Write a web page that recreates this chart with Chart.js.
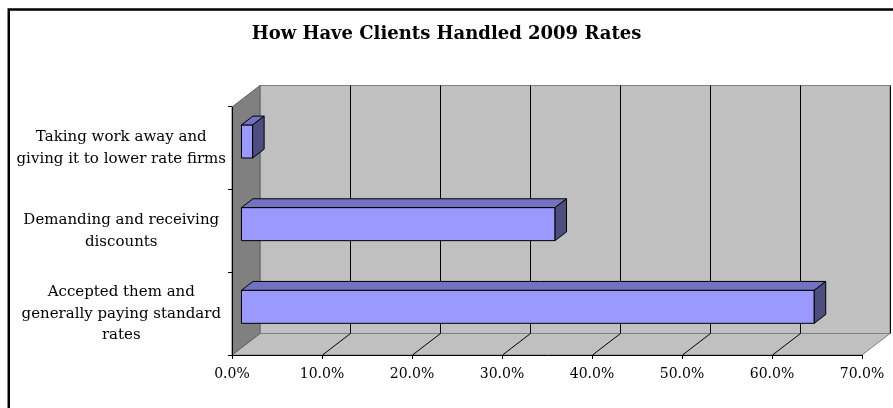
<!DOCTYPE html>
<html>
<head>
<meta charset="utf-8">
<script src="https://cdn.jsdelivr.net/npm/chart.js@4.4.1/dist/chart.umd.min.js"></script>
<style>
  html, body { margin: 0; padding: 0; background: #fff; }
  #wrap { width: 893px; height: 408px; }
</style>
</head>
<body>
<div id="wrap"><canvas id="rates"></canvas></div>
<script>
// categories top to bottom, shares as fractions
const categories = [
    ["Taking work away and", "giving it to lower rate firms"],
    ["Demanding and receiving", "discounts"],
    ["Accepted them and", "generally paying standard", "rates"]
];
const shares = [0.013, 0.349, 0.637];
const axisMax = 0.7;
const axisStep = 0.1;

// depth of the 3d box (back wall offset from the front plane)
const DEPTH_X = 28;
const DEPTH_Y = -21.5;
// bars sit between these depth fractions
const BAR_FRONT = 0.32;
const BAR_BACK = 0.73;

const serif = "'DejaVu Serif', 'Liberation Serif', serif";

function pct(v) {
    return (v * 100).toFixed(1) + "%";
}

const walls3d = {
    id: "walls3d",
    afterLayout(chart) {
        // let the category labels spill into the left padding instead of being clipped
        chart.scales.y.left = 0;
    },
    beforeDraw(chart) {
        const ctx = chart.ctx;
        const a = chart.chartArea;
        const xs = chart.scales.x;
        ctx.save();
        ctx.fillStyle = "#fff";
        ctx.fillRect(0, 0, chart.width, chart.height);

        // outer frame, runs off the right and bottom edge
        ctx.strokeStyle = "#000";
        ctx.lineWidth = 2.5;
        ctx.beginPath();
        ctx.moveTo(8.75, chart.height + 5);
        ctx.lineTo(8.75, 9.5);
        ctx.lineTo(chart.width + 5, 9.5);
        ctx.stroke();

        const bl = a.left + DEPTH_X, bt = a.top + DEPTH_Y;
        const br = a.right + DEPTH_X, bb = a.bottom + DEPTH_Y;

        ctx.lineWidth = 1;
        ctx.strokeStyle = "#808080";
        // back wall
        ctx.fillStyle = "#c0c0c0";
        ctx.fillRect(bl, bt, br - bl, bb - bt);
        ctx.strokeRect(bl, bt, br - bl, bb - bt);

        // floor
        ctx.beginPath();
        ctx.moveTo(a.left, a.bottom);
        ctx.lineTo(bl, bb);
        ctx.lineTo(br, bb);
        ctx.lineTo(a.right, a.bottom);
        ctx.closePath();
        ctx.fill();
        ctx.stroke();

        // left wall
        ctx.fillStyle = "#808080";
        ctx.beginPath();
        ctx.moveTo(a.left, a.top);
        ctx.lineTo(bl, bt);
        ctx.lineTo(bl, bb);
        ctx.lineTo(a.left, a.bottom);
        ctx.closePath();
        ctx.fill();
        ctx.strokeStyle = "#606060";
        ctx.stroke();

        // gridlines on the floor and back wall
        ctx.strokeStyle = "#000";
        ctx.beginPath();
        xs.ticks.forEach(t => {
            if (t.value <= 0) return;
            const px = Math.round(xs.getPixelForValue(t.value)) + 0.5;
            if (t.value < axisMax - 1e-9) {
                ctx.moveTo(px, a.bottom);
                ctx.lineTo(px + DEPTH_X, bb);
            }
            ctx.moveTo(px + DEPTH_X, bb);
            ctx.lineTo(px + DEPTH_X, bt);
        });
        ctx.stroke();
        ctx.restore();
    },
    afterDatasetsDraw(chart) {
        const ctx = chart.ctx;
        const meta = chart.getDatasetMeta(0);
        const fx = DEPTH_X * BAR_FRONT, fy = DEPTH_Y * BAR_FRONT;
        const dx = DEPTH_X * (BAR_BACK - BAR_FRONT), dy = DEPTH_Y * (BAR_BACK - BAR_FRONT);
        ctx.save();
        ctx.lineWidth = 1;
        ctx.strokeStyle = "#000";
        ctx.lineJoin = "round";
        meta.data.forEach(bar => {
            const x0 = bar.base + fx, x1 = bar.x + fx;
            const y0 = bar.y - bar.height / 2 + fy, y1 = bar.y + bar.height / 2 + fy;

            // front face
            ctx.fillStyle = "#9999ff";
            ctx.beginPath();
            ctx.rect(x0, y0, x1 - x0, y1 - y0);
            ctx.fill();
            ctx.stroke();

            // top face
            ctx.fillStyle = "#7272c0";
            ctx.beginPath();
            ctx.moveTo(x0, y0);
            ctx.lineTo(x0 + dx, y0 + dy);
            ctx.lineTo(x1 + dx, y0 + dy);
            ctx.lineTo(x1, y0);
            ctx.closePath();
            ctx.fill();
            ctx.stroke();

            // end face
            ctx.fillStyle = "#4d4d80";
            ctx.beginPath();
            ctx.moveTo(x1, y0);
            ctx.lineTo(x1 + dx, y0 + dy);
            ctx.lineTo(x1 + dx, y1 + dy);
            ctx.lineTo(x1, y1);
            ctx.closePath();
            ctx.fill();
            ctx.stroke();
        });
        ctx.restore();
    }
};

new Chart(document.getElementById("rates"), {
    type: "bar",
    data: {
        labels: categories,
        datasets: [{
            data: shares,
            backgroundColor: "rgba(0,0,0,0)",
            borderWidth: 0,
            categoryPercentage: 1,
            barPercentage: 0.4
        }]
    },
    options: {
        indexAxis: "y",
        responsive: true,
        maintainAspectRatio: false,
        animation: false,
        events: [],
        layout: { padding: { left: 31, right: 31, top: 0, bottom: 0 } },
        plugins: {
            legend: { display: false },
            tooltip: { enabled: false },
            title: {
                display: true,
                text: "How Have Clients Handled 2009 Rates",
                color: "#000",
                font: { family: serif, size: 18, weight: "bold", lineHeight: 1.2 },
                padding: { top: 24, bottom: 61.4 }
            }
        },
        scales: {
            x: {
                min: 0,
                max: axisMax,
                afterFit(scale) { scale.height = 53; },
                grid: { drawOnChartArea: false, tickLength: 4, color: "#000" },
                border: { display: true, color: "#000" },
                ticks: {
                    stepSize: axisStep,
                    padding: 7,
                    color: "#000",
                    font: { family: serif, size: 14 },
                    callback: v => pct(v)
                }
            },
            y: {
                afterFit(scale) { scale.width = 201; },
                grid: { drawOnChartArea: false, tickLength: 4, color: "#000", offset: true },
                border: { display: true, color: "#000" },
                ticks: {
                    crossAlign: "center",
                    padding: 2,
                    color: "#000",
                    font: { family: serif, size: 15, lineHeight: 1.45 }
                }
            }
        }
    },
    plugins: [walls3d]
});
</script>
</body>
</html>
